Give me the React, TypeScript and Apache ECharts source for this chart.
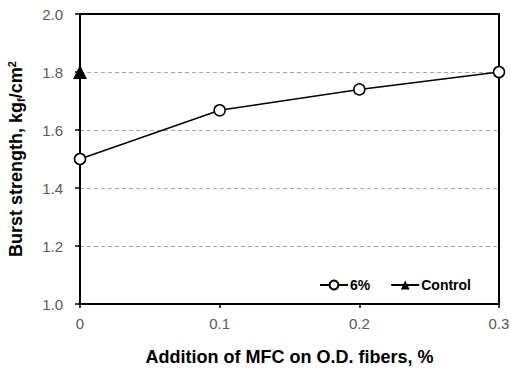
import React, { useEffect, useRef } from "react";
import * as echarts from "echarts";

const xValues = [0, 0.1, 0.2, 0.3];
const mfc6 = [1.5, 1.668, 1.74, 1.8];
const controlX = [0];
const controlY = [1.8];
const yTicks = ["1.0", "1.2", "1.4", "1.6", "1.8", "2.0"];
const xTicks = ["0", "0.1", "0.2", "0.3"];

export default function App() {
  const ref = useRef<HTMLDivElement>(null);
  useEffect(() => {
    const chart = echarts.init(ref.current!, null, { renderer: "svg" });
    const font = "'Liberation Sans', Arial, sans-serif";
    chart.setOption({
      animation: false,
      textStyle: { fontFamily: font },
      grid: {
        left: 80,
        right: 12,
        top: 14,
        bottom: 66,
        show: true,
        borderColor: "#000",
        borderWidth: 2,
        containLabel: false,
        outerBoundsMode: "none",
      },
      legend: {
        left: 314,
        top: 273,
        itemWidth: 28,
        itemHeight: 11,
        itemGap: 20,
        textStyle: { fontFamily: font, fontWeight: "bold", fontSize: 14, color: "#000", padding: [0, 0, 0, -3] },
        data: ["6%", "Control"],
      },
      xAxis: {
        type: "value",
        min: 0,
        max: 0.3,
        interval: 0.1,
        splitLine: { show: false },
        axisLine: { lineStyle: { color: "#000", width: 2 } },
        axisTick: { show: true, length: 4, lineStyle: { color: "#000", width: 1.5 } },
        axisLabel: {
          color: "#595959",
          fontSize: 15,
          margin: 12,
          fontFamily: font,
          formatter: (v: number) => xTicks[Math.round(v * 10)],
        },
        name: "Addition of MFC on O.D. fibers, %",
        nameLocation: "middle",
        nameGap: 44,
        nameTextStyle: { fontFamily: font, fontWeight: "bold", fontSize: 18, color: "#000" },
      },
      yAxis: {
        type: "value",
        min: 1.0,
        max: 2.0,
        interval: 0.2,
        axisLine: { show: true, lineStyle: { color: "#000", width: 2 } },
        axisTick: { show: true, length: 5, lineStyle: { color: "#000", width: 1.5 } },
        splitLine: {
          show: true,
          showMinLine: false,
          showMaxLine: false,
          lineStyle: { color: "#a6a6a6", type: [4, 3], width: 1 },
        },
        axisLabel: {
          color: "#595959",
          fontSize: 15,
          margin: 17,
          fontFamily: font,
          formatter: (v: number) => yTicks[Math.round((v - 1) * 5)],
        },
        name: "{a|Burst strength, kg}{s|f}{a|/cm}{p|2}",
        nameLocation: "middle",
        nameGap: 54,
        nameRotate: 90,
        nameTextStyle: {
          rich: {
            a: { fontFamily: font, fontWeight: "bold", fontSize: 18, color: "#000" },
            s: { fontFamily: font, fontWeight: "bold", fontSize: 11, color: "#000", verticalAlign: "bottom", padding: [7, 0, 0, 0] },
            p: { fontFamily: font, fontWeight: "bold", fontSize: 11, color: "#000", verticalAlign: "top", padding: [0, 0, 9, 0] },
          },
        },
      },
      series: [
        {
          name: "6%",
          type: "line",
          data: xValues.map((x, i) => [x, mfc6[i]]),
          symbol: "circle",
          symbolSize: 11,
          clip: false,
          lineStyle: { color: "#000", width: 1.5 },
          itemStyle: { color: "#fff", borderColor: "#000", borderWidth: 1.5 },
        },
        {
          name: "Control",
          type: "line",
          data: controlX.map((x, i) => [x, controlY[i]]),
          symbol: "triangle",
          symbolSize: 14,
          clip: false,
          lineStyle: { color: "#000", width: 1.5 },
          itemStyle: { color: "#000" },
          z: 5,
        },
      ],
    });
    return () => chart.dispose();
  }, []);
  return <div ref={ref} style={{ width: 511, height: 370, position: "absolute", left: 0, top: 0 }} />;
}
